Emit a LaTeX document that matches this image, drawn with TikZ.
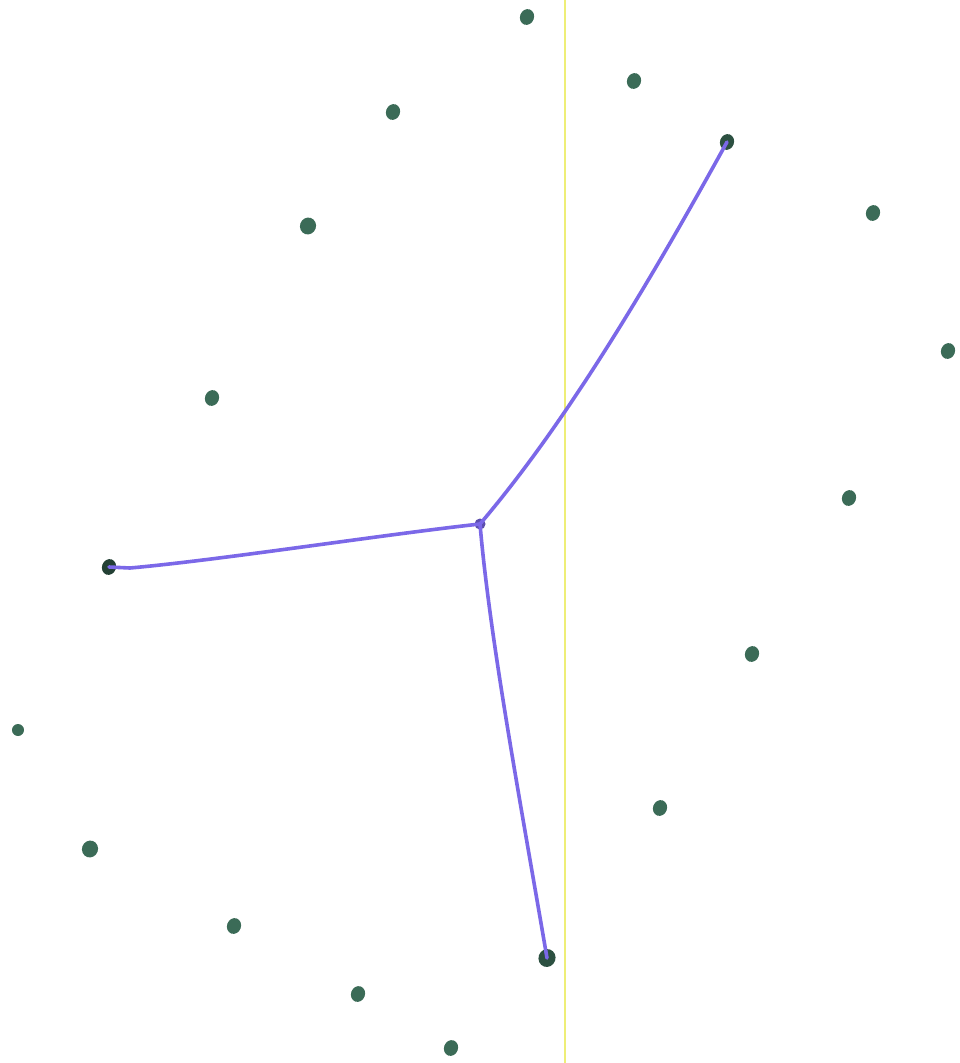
\documentclass[tikz,border=0pt]{standalone}
\usetikzlibrary{shapes.geometric}
\begin{document}
\begin{tikzpicture}[x=1pt,y=-1pt,
  dot/.style={ellipse,fill=dotgreen,inner sep=0pt,minimum width=14pt,minimum height=16pt,rotate=-20},
  edge/.style={draw=penpurple,line width=3.6pt,line cap=round,line join=round}]
\definecolor{dotgreen}{HTML}{3B6B57}
\definecolor{penpurple}{HTML}{7B68E8}
\definecolor{marker}{HTML}{EEEE77}
\useasboundingbox[fill=white] (0,0) rectangle (959,1063);
\coordinate (ytop) at (565,0);
\coordinate (ybot) at (565,1063);
\draw[marker,line width=1.6pt] (ytop) -- (ybot);
\node[dot] (d1) at (527,17) {};
\node[dot] (d2) at (634,81) {};
\node[dot] (d3) at (393,112) {};
\node[dot,fill=dotgreen!75!black] (d4) at (727,142) {};
\node[dot] (d5) at (873,213) {};
\node[dot,minimum width=16pt,minimum height=17pt] (d6) at (308,226) {};
\node[dot] (d7) at (948,351) {};
\node[dot] (d8) at (212,398) {};
\node[dot] (d9) at (849,498) {};
\node[dot,fill=dotgreen!60!black] (d10) at (109,567) {};
\node[dot] (d11) at (752,654) {};
\node[dot,minimum width=12pt,minimum height=12pt] (d12) at (18,730) {};
\node[dot] (d13) at (660,808) {};
\node[dot,minimum width=16pt,minimum height=17pt] (d14) at (90,849) {};
\node[dot] (d15) at (234,926) {};
\node[dot,fill=dotgreen!75!black,minimum width=17pt,minimum height=18pt] (d16) at (547,958) {};
\node[dot] (d17) at (358,994) {};
\node[dot] (d18) at (451,1048) {};
\node[circle,fill=penpurple!75!black,inner sep=0pt,minimum size=11pt] (c) at (480,524) {};
\draw[edge] (c.center) .. controls (560,430) and (640,300) .. (d4.center);
\draw[edge] (c.center) .. controls (380,535) and (220,560) .. (130,568) -- (d10.center);
\draw[edge] (c.center) .. controls (490,640) and (520,800) .. (d16.center);
\end{tikzpicture}
\end{document}
